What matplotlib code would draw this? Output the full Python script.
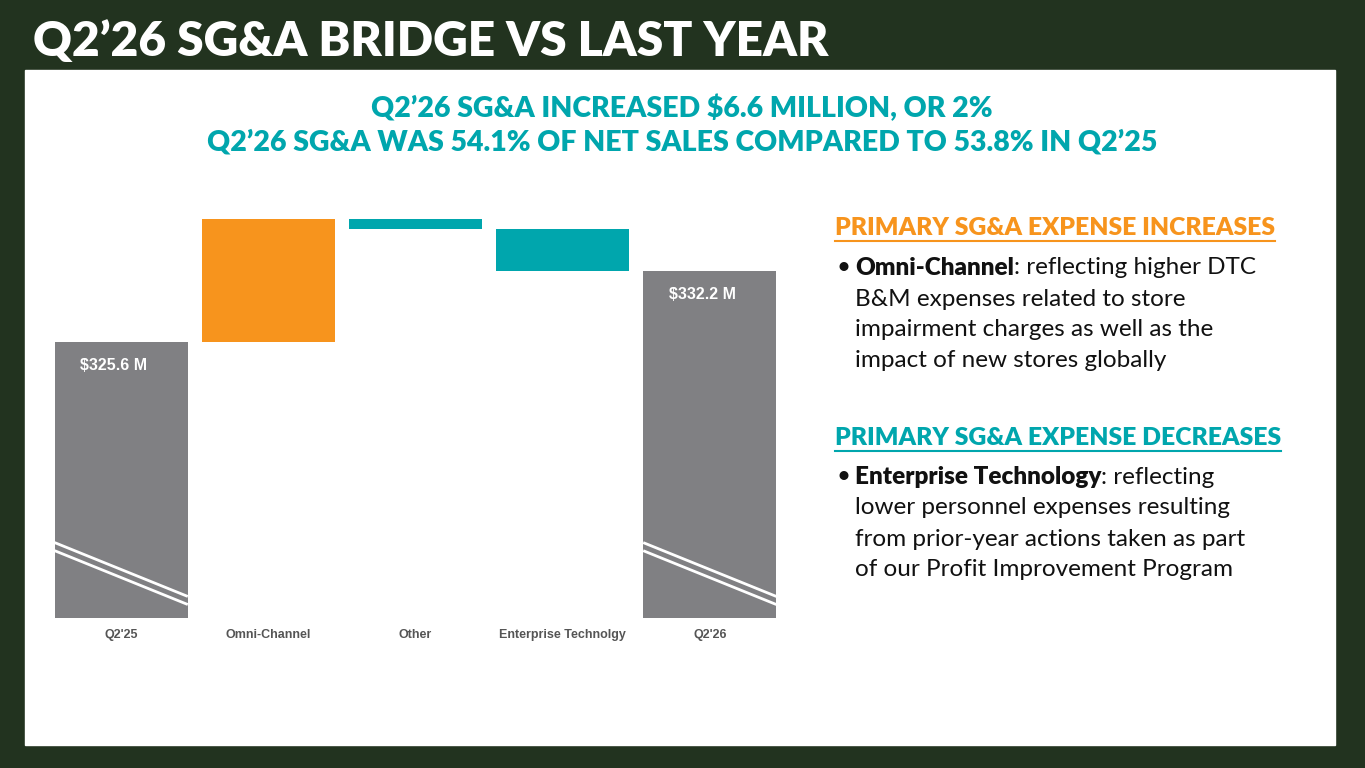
import matplotlib
matplotlib.use('Agg')
import matplotlib.pyplot as plt
from matplotlib.patches import Rectangle

categories = ["Q2'25", "Omni-Channel", "Other", "Enterprise Technolgy", "Q2'26"]
start_total = 325.6
changes = [11.4, -0.9, -3.9]
end_total = 332.2
axis_floor = 300.0

GRAY = '#808083'
ORANGE = '#F7941D'
TEAL = '#00A6AD'
DARK = '#111111'

fig = plt.figure(figsize=(13.65, 7.68), dpi=100)
fig.patch.set_facecolor('#22331f')
W, H = 1365, 768

def fx(px):
    return px / W

def fy(py):
    return 1 - py / H

fig.patches.append(Rectangle((fx(25), fy(745)), fx(1335) - fx(25), fy(70) - fy(745),
                             transform=fig.transFigure, color='white', zorder=-5))

fig.text(fx(33), fy(42), "Q2\u201926 SG&A BRIDGE VS LAST YEAR", color='white', fontsize=34.5,
         fontweight='heavy', family='Lato', va='center')
fig.text(fx(682), fy(108), "Q2\u201926 SG&A INCREASED $6.6 MILLION, OR 2%", color=TEAL,
         fontsize=20.5, fontweight='heavy', family='Lato', ha='center', va='center')
fig.text(fx(682), fy(142), "Q2\u201926 SG&A WAS 54.1% OF NET SALES COMPARED TO 53.8% IN Q2\u201925",
         color=TEAL, fontsize=20.5, fontweight='heavy', family='Lato', ha='center', va='center')

ax = fig.add_axes([fx(55), fy(618), fx(776) - fx(55), fy(200) - fy(618)])
ax.set_zorder(5)
ax.patch.set_visible(False)
ax.set_ylim(axis_floor, axis_floor + 38.8)
ax.set_xlim(-0.45, 4.45)
width = 0.905

# totals
for i, val in [(0, start_total), (4, end_total)]:
    ax.bar(i, val - axis_floor, width, bottom=axis_floor, color=GRAY)
    ax.text(i - 0.28, val - 1.5, f"${val} M", color='white', fontsize=11.5,
            fontweight='bold', family='Liberation Sans', va='top', ha='left')
    xs = [i - width / 2, i + width / 2]
    for off in (0, 0.75):
        ax.plot(xs, [307.0 - off, 302.0 - off], color='white', lw=2, solid_capstyle='butt')

# steps
level = start_total
for k, ch in enumerate(changes):
    color = ORANGE if ch > 0 else TEAL
    low = min(level, level + ch)
    ax.bar(k + 1, abs(ch), width, bottom=low, color=color)
    level += ch

ax.set_xticks(range(len(categories)))
ax.set_xticklabels(categories, fontsize=9, color='#555555', fontweight='bold', family='Liberation Sans')
ax.tick_params(length=0, pad=8)
ax.set_yticks([])
for s in ax.spines.values():
    s.set_visible(False)

# right-hand commentary
def heading(y, text, color):
    t = fig.text(fx(835), fy(y), text, color=color, fontsize=17.8, fontweight='heavy',
                 family='Lato', va='center')
    fig.canvas.draw()
    bb = t.get_window_extent()
    fig.add_artist(plt.Line2D([bb.x0 / W, bb.x1 / W], [fy(y + 13)] * 2,
                              transform=fig.transFigure, color=color, lw=1.5))

heading(228, "PRIMARY SG&A EXPENSE INCREASES", ORANGE)
heading(438, "PRIMARY SG&A EXPENSE DECREASES", TEAL)

fs = 17.5
lines1 = ["Omni-Channel: reflecting higher DTC", "B&M expenses related to store",
          "impairment charges as well as the", "impact of new stores globally"]
lines2 = ["Enterprise Technology: reflecting", "lower personnel expenses resulting",
          "from prior-year actions taken as part", "of our Profit Improvement Program"]

def bullet(y0, lines, bold):
    fig.text(fx(836), fy(y0), "\u2022", fontsize=fs, family='Lato', color=DARK, va='center')
    t = fig.text(fx(855), fy(y0), bold, fontsize=fs, family='Lato', fontweight='heavy',
                 color=DARK, va='center')
    fig.canvas.draw()
    bb = t.get_window_extent()
    fig.text(bb.x1 / W, fy(y0), lines[0][len(bold):], fontsize=fs, family='Lato',
             color=DARK, va='center')
    for j, ln in enumerate(lines[1:], 1):
        fig.text(fx(855), fy(y0 + 31 * j), ln, fontsize=fs, family='Lato', color=DARK, va='center')

bullet(268, lines1, "Omni-Channel")
bullet(477, lines2, "Enterprise Technology")

fig.savefig('out.png', dpi=100, facecolor=fig.get_facecolor())
